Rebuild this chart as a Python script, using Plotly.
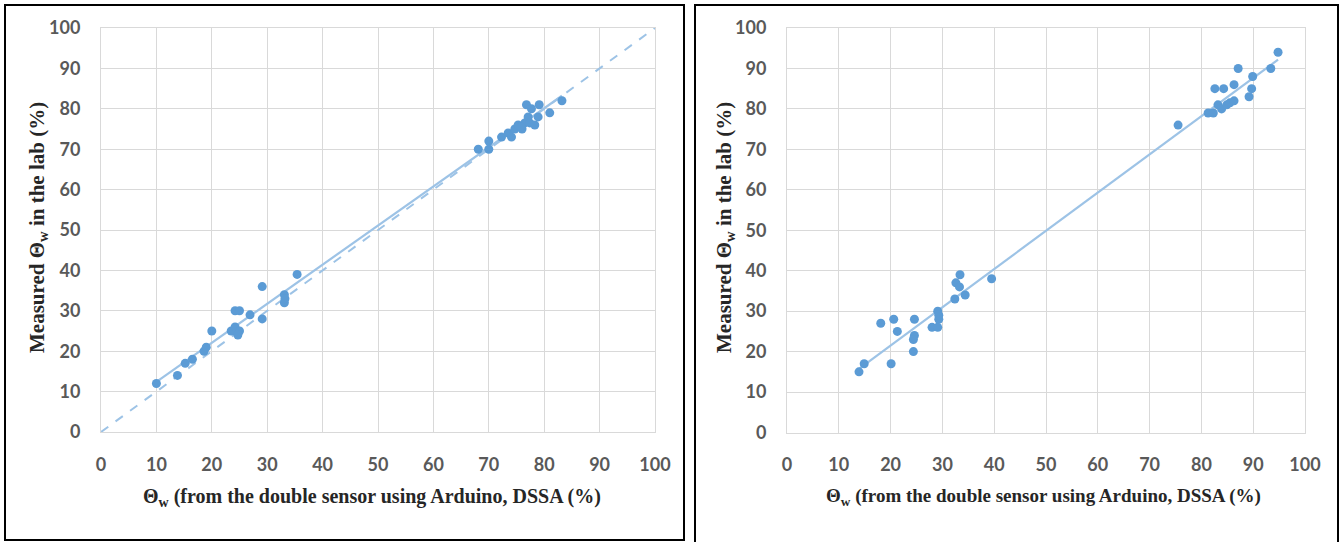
import numpy as np
import plotly.graph_objects as go

# ---- data ----
left_x = [10, 13.8, 15.2, 16.5, 18.6, 19, 20, 24.2, 25, 23.5, 24.2, 25, 24.7, 26.9, 29.1, 29.1,
          33.1, 33.1, 33.2, 35.4,
          68.1, 70, 70, 72.3, 73.5, 74.1, 74.7, 75.3, 76, 76.5, 76.8, 77.7, 79.1, 77.1, 78.3,
          78.9, 81, 83.2, 75.8, 77.4]
left_y = [12, 14, 17, 18, 20, 21, 25, 30, 30, 25, 26, 25, 24, 29, 36, 28,
          34, 32, 33, 39,
          70, 72, 70, 73, 74, 73, 75, 76, 75, 76.5, 81, 80, 81, 78, 76,
          78, 79, 82, 75.5, 76.5]

right_x = [13.9, 14.9, 18.1, 20.6, 20.1, 21.3, 24.6, 24.6, 24.4, 24.4, 28, 29.1, 29.3, 29.3,
           29.1, 32.4, 34.4, 32.6, 33.3, 33.4, 39.5,
           75.5, 81.3, 82.3, 83.2, 83.9, 84.9, 85.5, 86.3, 82.6, 84.3, 86.3, 87.1, 89.2,
           89.7, 89.9, 93.4, 94.8]
right_y = [15, 17, 27, 28, 17, 25, 28, 24, 23, 20, 26, 26, 28, 29,
           30, 33, 34, 37, 36, 39, 38,
           76, 79, 79, 81, 80, 81, 81.5, 82, 85, 85, 86, 90, 83,
           85, 88, 90, 94]

ticks = list(range(0, 101, 10))
one_to_one = [0, 100]

x_title = "Θ<sub>w</sub> (from the double sensor using Arduino, DSSA (%)"
y_title = "Measured Θ<sub>w</sub> in the lab (%)"

W, H = 1342, 542
MARK = "#5B9BD5"
TREND = "#9DC3E6"
GRID = "#D9D9D9"
TICKC = "#595959"


def px(v):
    return v / W


def py(v):
    return 1 - v / H


def fit(x, y):
    a, b = np.polyfit(x, y, 1)
    xs = [min(x), max(x)]
    return xs, [a * v + b for v in xs]


fig = go.Figure()

lx, ly = fit(left_x, left_y)
rx, ry = fit(right_x, right_y)

fig.add_trace(go.Scatter(x=one_to_one, y=one_to_one, mode="lines",
                         line=dict(color=TREND, width=2, dash="dash"),
                         xaxis="x", yaxis="y", showlegend=False))
fig.add_trace(go.Scatter(x=lx, y=ly, mode="lines", line=dict(color=TREND, width=2.2),
                         xaxis="x", yaxis="y", showlegend=False))
fig.add_trace(go.Scatter(x=left_x, y=left_y, mode="markers",
                         marker=dict(color=MARK, size=9),
                         xaxis="x", yaxis="y", showlegend=False))
fig.add_trace(go.Scatter(x=rx, y=ry, mode="lines", line=dict(color=TREND, width=2.2),
                         xaxis="x2", yaxis="y2", showlegend=False))
fig.add_trace(go.Scatter(x=right_x, y=right_y, mode="markers",
                         marker=dict(color=MARK, size=9),
                         xaxis="x2", yaxis="y2", showlegend=False))

tickfont = dict(family="Lato", size=18, color=TICKC, weight="bold")
axcommon = dict(range=[0, 100], tickvals=ticks, showgrid=True, gridcolor=GRID, gridwidth=1,
                zeroline=False, showline=True, linecolor=GRID, linewidth=1, mirror=True,
                ticks="", tickfont=tickfont, ticklabelstandoff=16, fixedrange=True,
                automargin=False)

fig.update_layout(
    width=W, height=H,
    margin=dict(l=0, r=0, t=0, b=0, pad=0, autoexpand=False),
    paper_bgcolor="white", plot_bgcolor="white",
    xaxis=dict(domain=[px(101), px(655)], anchor="y", **axcommon),
    yaxis=dict(domain=[py(432), py(28)], anchor="x", **axcommon),
    xaxis2=dict(domain=[px(787), px(1305)], anchor="y2", **axcommon),
    yaxis2=dict(domain=[py(432.5), py(28)], anchor="x2", **axcommon),
    shapes=[
        dict(type="rect", xref="paper", yref="paper", x0=px(5), x1=px(684), y0=py(540), y1=py(5),
             line=dict(color="black", width=2)),
        dict(type="rect", xref="paper", yref="paper", x0=px(695), x1=px(1338), y0=py(560), y1=py(5),
             line=dict(color="black", width=2)),
    ],
)

titlefont = dict(family="Liberation Serif", size=20, color="#262626", weight="bold")
fig.add_annotation(text=x_title, xref="paper", yref="paper", x=px(372), y=py(497),
                   showarrow=False, font=titlefont, xanchor="center", yanchor="middle")
fig.add_annotation(text=x_title, xref="paper", yref="paper", x=px(1043), y=py(497),
                   showarrow=False, font=dict(titlefont, size=19), xanchor="center", yanchor="middle")
fig.add_annotation(text=y_title, xref="paper", yref="paper", x=px(38), y=py(228),
                   showarrow=False, font=dict(titlefont, size=21), textangle=-90,
                   xanchor="center", yanchor="middle")
fig.add_annotation(text=y_title, xref="paper", yref="paper", x=px(725), y=py(228),
                   showarrow=False, font=dict(titlefont, size=21), textangle=-90,
                   xanchor="center", yanchor="middle")

fig.write_html(
    "out.html",
    config={"displayModeBar": False},
    post_script="document.body.style.margin='0';document.body.style.overflow='hidden';",
)
